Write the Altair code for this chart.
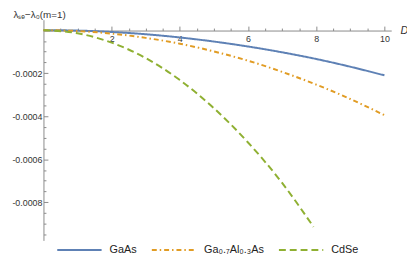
import altair as alt
import pandas as pd

names = ["GaAs", "Ga₀.₇Al₀.₃As", "CdSe"]
colors = ["#5E81B5", "#E19C24", "#8FB032"]
dashes = [[1, 0], [5, 3, 1.5, 3], [7, 4]]

gaas_x = [0, 1, 2, 3, 4, 5, 6, 7, 8, 9, 10]
gaas_y = [0, -0.000002, -0.0000085, -0.000019, -0.000034, -0.000053,
          -0.000076, -0.000103, -0.000134, -0.00017, -0.00021]
gaal_x = [0, 1, 2, 3, 4, 5, 6, 7, 8, 9, 10]
gaal_y = [0, -0.000004, -0.000016, -0.000036, -0.000063, -0.000099,
          -0.000142, -0.000194, -0.000253, -0.00032, -0.000395]
cdse_x = [0, 1, 2, 3, 4, 5, 6, 7, 7.92]
cdse_y = [0, -0.0000145, -0.000058, -0.00013, -0.000232, -0.000363,
          -0.000522, -0.00071, -0.000914]

x_major = [2, 4, 6, 8, 10]
x_minor = [0.5, 1, 1.5, 2.5, 3, 3.5, 4.5, 5, 5.5, 6.5, 7, 7.5, 8.5, 9, 9.5]
y_major = [-0.0002, -0.0004, -0.0006, -0.0008]
y_minor = [-0.00005, -0.0001, -0.00015, -0.00025, -0.0003, -0.00035,
           -0.00045, -0.0005, -0.00055, -0.00065, -0.0007, -0.00075,
           -0.00085, -0.0009, -0.00095]

rows = []
for n, xs, ys in [(names[0], gaas_x, gaas_y), (names[1], gaal_x, gaal_y), (names[2], cdse_x, cdse_y)]:
    for a, b in zip(xs, ys):
        rows.append({"x": a, "y": b, "series": n})
df = pd.DataFrame(rows)

W, H = 353, 224
AX = "#8a8a8a"
xscale = alt.Scale(domain=[0, 10.2], nice=False, zero=False)
yscale = alt.Scale(domain=[-0.000977, 0.0000485], nice=False, zero=False)

leg = alt.Legend(orient="none", legendX=13, legendY=210, direction="horizontal",
                 title=None, symbolType="stroke", symbolSize=2025, symbolStrokeWidth=2,
                 labelFontSize=11, labelFont="Liberation Sans", labelColor="#222",
                 labelOffset=7, columnPadding=11, padding=0)

base = alt.Chart(df)

lines = base.mark_line(strokeWidth=2, interpolate="monotone").encode(
    x=alt.X("x:Q", scale=xscale,
            axis=alt.Axis(orient="top", offset=-11, values=x_minor, tickSize=2.5,
                          labels=False, domainColor=AX, tickColor=AX, grid=False,
                          title="D", titleX=W + 9, titleY=0, titleAlign="left",
                          titleBaseline="middle", titleFontStyle="italic",
                          titleFontWeight="normal", titleFont="Liberation Sans",
                          titleFontSize=11, titleColor="#333", titleAngle=0)),
    y=alt.Y("y:Q", scale=yscale,
            axis=alt.Axis(orient="right", offset=-W, values=y_minor, tickSize=2.5,
                          labels=False, domainColor=AX, tickColor=AX, grid=False,
                          title=None)),
    color=alt.Color("series:N", scale=alt.Scale(domain=names, range=colors), legend=leg),
    strokeDash=alt.StrokeDash("series:N", scale=alt.Scale(domain=names, range=dashes), legend=leg),
)

majors = base.mark_line(strokeOpacity=0).encode(
    x=alt.X("x:Q", scale=xscale,
            axis=alt.Axis(orient="top", offset=-11, values=x_major, tickSize=4.5,
                          labels=False, domain=False, tickColor=AX, grid=False, title=None)),
    y=alt.Y("y:Q", scale=yscale,
            axis=alt.Axis(orient="right", offset=-W, values=y_major, tickSize=4.5,
                          labels=False, domain=False, tickColor=AX, grid=False, title=None)),
    detail="series:N",
)

labels = base.mark_line(strokeOpacity=0).encode(
    x=alt.X("x:Q", scale=xscale,
            axis=alt.Axis(orient="bottom", offset=-(H - 11), values=x_major, ticks=False,
                          tickSize=0, domain=False, grid=False, labelPadding=4,
                          labelFontSize=9, labelFont="Liberation Sans", labelColor="#333",
                          title=None)),
    y=alt.Y("y:Q", scale=yscale,
            axis=alt.Axis(orient="left", values=y_major, ticks=False, tickSize=0,
                          domain=False, grid=False, labelPadding=1.5,
                          labelFontSize=9, labelFont="Liberation Sans", labelColor="#333",
                          labelExpr="'-' + format(-datum.value, '.4f')",
                          title="λₛₑ−λ₀(m=1)", titleAngle=0, titleX=-31, titleY=-10,
                          titleAlign="left", titleBaseline="top",
                          titleFont="Liberation Sans", titleFontSize=10,
                          titleFontWeight="normal", titleColor="#333")),
    detail="series:N",
)

chart = alt.layer(lines, majors, labels).resolve_axis(
    x="independent", y="independent"
).properties(
    width=W, height=H,
    autosize=alt.AutoSizeParams(type="none"),
    padding={"left": 36, "top": 10, "right": 16, "bottom": 17},
).configure_view(stroke=None)

chart.save("out.html", embed_options={"renderer": "svg", "actions": False})
